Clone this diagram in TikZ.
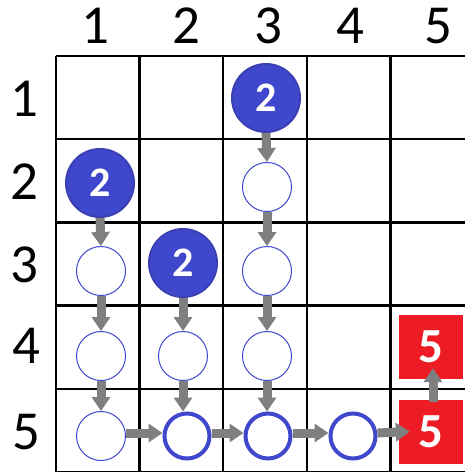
\documentclass[tikz,border=0pt]{standalone}
\usepackage{fontspec}
\setmainfont{Carlito}
\usetikzlibrary{arrows.meta}
\definecolor{dotblue}{HTML}{3F48CC}
\definecolor{dotedge}{HTML}{3A40B4}
\definecolor{arrgray}{HTML}{7F7F7F}
\definecolor{boxred}{HTML}{ED1C24}
\tikzset{
  lbl/.style={font=\fontsize{55}{55}\selectfont, inner sep=0pt},
  filled/.style={circle, fill=dotblue, draw=dotedge, line width=2pt, minimum size=68pt, inner sep=0pt,
    text=white, font=\fontsize{42}{42}\selectfont\bfseries},
  hollow/.style={circle, draw=dotblue, line width=1pt, fill=white, minimum size=49pt, inner sep=0pt},
  bold/.style={circle, draw=dotblue, line width=4pt, fill=white, minimum size=45pt, inner sep=0pt},
  redbox/.style={rectangle, fill=boxred, minimum size=64pt, inner sep=0pt,
    text=white, font=\fontsize{49}{49}\selectfont\bfseries},
  arr/.style={draw=arrgray, line width=9pt, -{Triangle[width=18pt,length=14pt]}},
}
\begin{document}
\begin{tikzpicture}[x=1pt,y=-1pt]
\useasboundingbox (0,0) rectangle (464,472);
\fill[white] (0,0) rectangle (464,472);
% grid
\foreach \gx in {56,139.6,223.2,306.8,390.4,474}
  \draw[line width=2.5pt] (\gx,56) -- (\gx,473);
\foreach \gy in {56,139.2,222.4,305.6,388.8,472}
  \draw[line width=2.5pt] (56,\gy) -- (476,\gy);
% labels
\node[lbl] (c1) at (95,26) {1};
\node[lbl] (c2) at (186,26) {2};
\node[lbl] (c3) at (268,26) {3};
\node[lbl] (c4) at (350,26) {4};
\node[lbl] (c5) at (438,26) {5};
\node[lbl] (r1) at (24,99) {1};
\node[lbl] (r2) at (24,182) {2};
\node[lbl] (r3) at (24,265) {3};
\node[lbl] (r4) at (26,346) {4};
\node[lbl] (r5) at (26,432) {5};
% circles
\node[filled] (f13) at (266,98) {2};
\node[filled] (f21) at (100,183) {2};
\node[filled] (f32) at (183,263) {2};
\node[hollow] (h23) at (267,187) {};
\node[hollow] (h31) at (101,271) {};
\node[hollow] (h33) at (267,271) {};
\node[hollow] (h41) at (101,356) {};
\node[hollow] (h42) at (183,356) {};
\node[hollow] (h43) at (267,356) {};
\node[hollow] (h51) at (101,436) {};
\node[bold] (b52) at (187,436) {};
\node[bold] (b53) at (268,436) {};
\node[bold] (b54) at (353,436) {};
\node[redbox] (r45) at (431,347) {5};
\node[redbox] (r55) at (431,431.5) {5};
% arrows
\draw[arr] (f13.south) -- (h23.north);
\draw[arr] (h23.south) -- (h33.north);
\draw[arr] (h33.south) -- (h43.north);
\draw[arr] (h43.south) -- (h43.south |- b53.north);
\draw[arr] (f21.south) -- (h31.north);
\draw[arr] (h31.south) -- (h41.north);
\draw[arr] (h41.south) -- (h51.north);
\draw[arr] (f32.south) -- (h42.north);
\draw[arr] (h42.south) -- (h42.south |- b52.north);
\draw[arr] ([yshift=3pt]h51.east) -- ([yshift=3pt]b52.west);
\draw[arr] ([yshift=3pt]b52.east) -- ([yshift=3pt]b53.west);
\draw[arr] ([yshift=3pt]b53.east) -- ([yshift=3pt]b54.west);
\draw[arr] ([yshift=3pt]b54.east) -- ([xshift=11pt]r55.west);
\draw[arr] ([xshift=2pt,yshift=-3pt]r55.north) -- ([xshift=2pt,yshift=11pt]r45.south);
\end{tikzpicture}
\end{document}
